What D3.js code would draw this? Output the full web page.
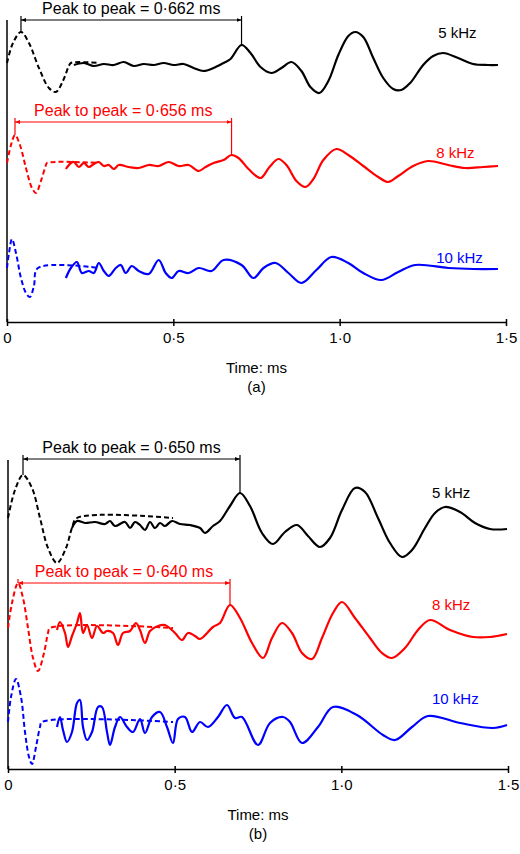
<!DOCTYPE html>
<html><head><meta charset="utf-8">
<script src="https://cdn.jsdelivr.net/npm/d3@7"></script>
<style>body{margin:0;background:#fff}svg{display:block}text{font-family:"Liberation Sans",Arial,sans-serif}</style>
</head><body>
<svg id="c" width="520" height="854"></svg>
<script>
// time in microseconds, amplitude in arbitrary units relative to trace baseline
const ticks = [0, 500, 1000, 1500];
const tickLabels = ["0", "0·5", "1·0", "1·5"];
const seriesNames = ["5 kHz", "8 kHz", "10 kHz"];
const colors = ["#000000", "#ff0000", "#0000ff"];
const baselinesA = [259, 159, 54];
const baselinesB = [251, 141, 47];

const a5Dash = [[0,0],[18,20],[42,31],[66,20],[96,-5],[126,-25],[147,-29],[168,-18],[186,-3],[192,0],[276,0]];
const a5Solid = [[201,-2],[231,0],[261,-3],[291,-1],[321,-2],[351,1],[381,-3],[411,-1],[441,-2],[471,0],[501,-2],[531,-1],[561,-5],[591,-8],[621,-5],[651,0],[672,4],[705,18],[732,10],[762,-4],[795,-10],[825,-5],[855,1],[885,-8],[912,-24],[939,-30],[966,-18],[996,8],[1026,27],[1047,31],[1071,26],[1101,5],[1131,-15],[1161,-26],[1185,-27],[1212,-20],[1251,-2],[1281,7],[1311,10],[1356,5],[1401,-1],[1446,-2],[1476,-2]];
const a8Dash = [[0,0],[12,18],[24,28],[39,18],[57,-5],[75,-25],[87,-30],[102,-18],[117,-2],[120,0],[276,0]];
const a8Solid = [[177,-6],[192,0],[201,1],[216,-4],[231,0],[246,-4],[261,-1],[276,1],[291,-3],[306,-2],[321,-6],[336,-2],[366,-4],[396,-5],[426,-2],[456,-3],[486,1],[516,-3],[546,-2],[576,-8],[597,-4],[621,0],[651,3],[675,8],[696,5],[726,-6],[762,-15],[789,-4],[816,4],[840,-2],[870,-18],[897,-24],[921,-16],[951,3],[990,14],[1026,8],[1071,-3],[1116,-14],[1146,-19],[1176,-13],[1221,-3],[1266,2],[1326,-2],[1377,-5],[1431,-4],[1476,-3]];
const a10Dash = [[0,0],[6,15],[15,29],[27,15],[42,-10],[57,-25],[69,-29],[81,-18],[93,0],[276,0]];
const a10Solid = [[177,-10],[192,0],[210,6],[225,-5],[246,-3],[261,-5],[276,5],[291,-3],[306,-8],[327,0],[342,3],[357,-5],[375,2],[396,-3],[426,-6],[456,8],[477,-5],[495,-10],[516,-3],[546,-5],[576,0],[615,-3],[651,8],[705,3],[741,-10],[771,0],[807,5],[846,-5],[885,-15],[930,-2],[975,11],[1026,5],[1071,-5],[1125,-12],[1176,-4],[1227,3],[1326,0],[1401,-1],[1476,-1]];

const b5Dash = [[0,0],[21,28],[45,43],[72,30],[96,0],[120,-30],[147,-45],[174,-30],[192,-10],[207,0],[495,0]];
const b5Solid = [[192,-10],[207,-3],[231,-5],[261,-4],[291,-6],[306,-3],[321,-8],[351,-4],[366,-10],[381,-4],[396,-7],[411,-12],[426,-4],[441,-10],[456,-5],[471,-8],[492,-3],[516,-6],[546,-7],[576,-10],[591,-15],[615,-8],[636,-3],[666,12],[696,25],[726,12],[762,-15],[795,-26],[831,-14],[867,-7],[900,-18],[936,-29],[966,-20],[1002,8],[1041,30],[1071,26],[1110,0],[1146,-25],[1182,-39],[1212,-32],[1251,-10],[1281,5],[1311,11],[1356,6],[1401,-5],[1446,-11],[1497,-11]];
const b8Dash = [[0,0],[12,25],[30,45],[45,30],[60,0],[75,-30],[90,-43],[108,-25],[120,-5],[126,0],[495,0]];
const b8Solid = [[147,-2],[156,6],[171,-5],[180,-19],[192,-8],[207,5],[216,15],[225,-5],[237,3],[252,-10],[267,2],[285,-5],[297,-3],[315,-5],[330,-17],[345,-5],[366,-3],[384,5],[396,-2],[411,-15],[426,-3],[450,2],[471,3],[501,-5],[522,-12],[540,-5],[561,-8],[576,-11],[615,1],[636,5],[666,23],[696,10],[732,-15],[765,-30],[792,-10],[822,5],[852,-5],[882,-25],[912,-31],[942,-10],[975,15],[1002,26],[1041,10],[1086,-10],[1122,-25],[1152,-30],[1191,-20],[1230,-2],[1266,8],[1326,-2],[1395,-9],[1446,-9],[1497,-6]];
const b10Dash = [[0,0],[9,25],[24,43],[39,25],[51,-10],[63,-35],[72,-42],[84,-25],[96,-5],[102,0],[495,0]];
const b10Solid = [[147,-5],[156,5],[165,-8],[177,-20],[192,-10],[207,19],[216,22],[225,-5],[237,-18],[252,-10],[270,15],[282,15],[297,-10],[306,-23],[321,-5],[336,5],[357,-5],[375,-10],[396,3],[411,-11],[432,5],[456,10],[477,-5],[495,-21],[510,3],[531,5],[552,-10],[576,0],[600,-5],[630,5],[657,17],[681,4],[702,5],[750,-23],[786,-1],[825,5],[846,0],[882,-21],[930,-5],[975,15],[1047,7],[1125,-13],[1161,-18],[1212,-5],[1260,6],[1356,-1],[1455,-6],[1497,-3]];

// annotations: [t1, t2, label, bracket level, color index]
const annotA = [[42,705,"Peak to peak = 0·662 ms",302,0],[24,675,"Peak to peak = 0·656 ms",200,1]];
const annotB = [[45,696,"Peak to peak = 0·650 ms",310,0],[30,666,"Peak to peak = 0·640 ms",186,1]];
const labelPosA = [[1296,284],[1290,164],[1290,59]];
const labelPosB = [[1272,271],[1272,159],[1272,65]];

const svg = d3.select("#c");
const defs = svg.append("defs");
colors.forEach((c,i)=>{
  defs.append("marker").attr("id","ar"+i).attr("viewBox","0 0 10 10").attr("refX",10).attr("refY",5)
    .attr("markerWidth",5).attr("markerHeight",5).attr("orient","auto-start-reverse")
    .append("path").attr("d","M0,1L10,5L0,9z").attr("fill",c);
});

function panel(cfg){
  const x = d3.scaleLinear().domain([0,1500]).range([cfg.x0, cfg.x1]);
  const y = d3.scaleLinear().domain([0,310]).range([cfg.axisY, cfg.axisY-310]);
  const g = svg.append("g");
  g.append("line").attr("x1",cfg.x0).attr("x2",cfg.x0).attr("y1",y(cfg.top)).attr("y2",cfg.axisY).attr("stroke","#000").attr("stroke-width",1.5);
  const ax = g.append("g").attr("transform",`translate(0,${cfg.axisY})`)
    .call(d3.axisBottom(x).tickValues(ticks).tickFormat((d,i)=>tickLabels[i]).tickSize(4).tickSizeOuter(0).tickPadding(6));
  ax.select(".domain").attr("stroke-width",1.5);
  ax.selectAll(".tick line").attr("y1",-3).attr("stroke-width",1.5);
  ax.selectAll(".tick text").attr("font-size",15).attr("font-family","Liberation Sans, Arial");
  g.append("text").attr("x",(cfg.x0+cfg.x1)/2).attr("y",cfg.axisY+51).attr("text-anchor","middle").attr("font-size",15).text("Time: ms");
  g.append("text").attr("x",(cfg.x0+cfg.x1)/2).attr("y",cfg.axisY+70).attr("text-anchor","middle").attr("font-size",15).text(cfg.tag);
  const line = d3.line().x(d=>x(d[0])).curve(d3.curveCatmullRom.alpha(0.5));
  cfg.traces.forEach((tr,i)=>{
    const b = cfg.base[i];
    const ln = line.y(d=>y(b+d[1]));
    g.append("path").attr("d",ln(tr[0])).attr("fill","none").attr("stroke",colors[i]).attr("stroke-width",2).attr("stroke-dasharray","5,3");
    g.append("path").attr("d",ln(tr[1])).attr("fill","none").attr("stroke",colors[i]).attr("stroke-width",2.2).attr("stroke-linejoin","round");
    g.append("text").attr("x",x(cfg.lab[i][0])).attr("y",y(cfg.lab[i][1])).attr("text-anchor","start").attr("font-size",15).attr("fill",colors[i]).text(seriesNames[i]);
  });
  cfg.annot.forEach(a=>{
    const [t1,t2,label,lev,ci] = a;
    const tr = cfg.traces[ci], b = cfg.base[ci];
    const peakVal = t => { const best = tr[0].concat(tr[1]).reduce((p,q)=>Math.abs(q[0]-t)<Math.abs(p[0]-t)?q:p); return b+best[1]; };
    const c = colors[ci];
    g.append("line").attr("x1",x(t1)).attr("x2",x(t2)).attr("y1",y(lev)).attr("y2",y(lev)).attr("stroke",c).attr("stroke-width",1)
      .attr("marker-start",`url(#ar${ci})`).attr("marker-end",`url(#ar${ci})`);
    [t1,t2].forEach(t=>g.append("line").attr("x1",x(t)).attr("x2",x(t)).attr("y1",y(lev)-4).attr("y2",y(peakVal(t))).attr("stroke",c).attr("stroke-width",1.2));
    g.append("text").attr("x",(x(t1)+x(t2))/2).attr("y",y(lev)-6).attr("text-anchor","middle").attr("font-size",16).attr("fill",c).text(label);
  });
}

panel({x0:7,x1:506,axisY:322,top:302,tag:"(a)",base:baselinesA,lab:labelPosA,annot:annotA,
  traces:[[a5Dash,a5Solid],[a8Dash,a8Solid],[a10Dash,a10Solid]]});
panel({x0:8,x1:508,axisY:769,top:309,tag:"(b)",base:baselinesB,lab:labelPosB,annot:annotB,
  traces:[[b5Dash,b5Solid],[b8Dash,b8Solid],[b10Dash,b10Solid]]});
</script>
</body></html>
